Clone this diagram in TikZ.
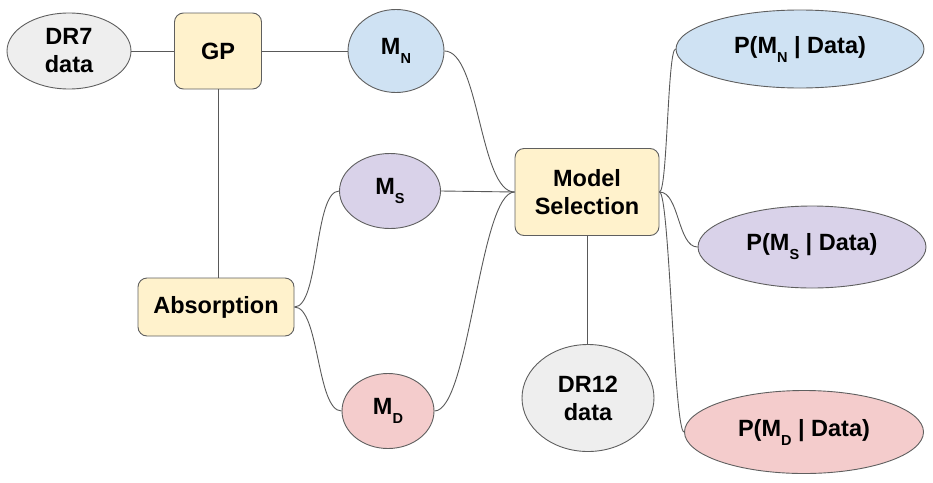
\documentclass[tikz,border=0pt]{standalone}
\usepackage{fontspec}
\setmainfont{Liberation Sans}
\usetikzlibrary{shapes.geometric}
\definecolor{bordc}{HTML}{5F5F5F}
\definecolor{linec}{HTML}{595959}
\definecolor{grayf}{HTML}{EEEEEE}
\definecolor{yelf}{HTML}{FFF2CC}
\definecolor{bluef}{HTML}{CFE2F3}
\definecolor{purf}{HTML}{D9D2E9}
\definecolor{redf}{HTML}{F4CCCC}
\newcommand{\sbs}[1]{\raisebox{-9pt}{\fontsize{14.5}{14.5}\selectfont #1}}
\tikzset{
  txt/.style={font=\fontsize{23.5}{28}\selectfont\bfseries, align=center, text=black},
  ell/.style={txt, ellipse, draw=bordc, line width=0.9pt, inner sep=0pt},
  rbox/.style={txt, rectangle, rounded corners=9pt, draw=bordc, line width=0.9pt, inner sep=0pt},
  conn/.style={draw=linec, line width=0.9pt},
}
\begin{document}
\begin{tikzpicture}[x=1pt,y=-1pt]
\useasboundingbox (0,0) rectangle (933,482);
\node[ell, fill=grayf, minimum width=124pt, minimum height=76pt] (dr7) at (69,51) {DR7\\data};
\node[rbox, fill=yelf, minimum width=87pt, minimum height=76pt] (gp) at (218,51) {GP};
\node[ell, fill=bluef, minimum width=96pt, minimum height=83pt] (mn) at (396,51) {M\sbs{N}};
\node[rbox, fill=yelf, minimum width=156pt, minimum height=58pt] (abs) at (216,307) {Absorption};
\node[ell, fill=purf, minimum width=101pt, minimum height=75pt] (ms) at (390,191) {M\sbs{S}};
\node[ell, fill=redf, minimum width=92pt, minimum height=75pt] (md) at (388,411) {M\sbs{D}};
\node[rbox, fill=yelf, minimum width=144pt, minimum height=87pt] (sel) at (587,192) {Model\\Selection};
\node[ell, fill=grayf, minimum width=132pt, minimum height=107pt] (dr12) at (588,398) {DR12\\data};
\node[ell, fill=bluef, minimum width=248pt, minimum height=78pt] (pn) at (800,49) {P(M\sbs{N} | Data)};
\node[ell, fill=purf, minimum width=228pt, minimum height=82pt] (ps) at (812,247) {P(M\sbs{S} | Data)};
\node[ell, fill=redf, minimum width=239pt, minimum height=83pt] (pd) at (804,432) {P(M\sbs{D} | Data)};
\draw[conn] (dr7.east) -- (gp.west);
\draw[conn] (gp.east) -- (mn.west);
\draw[conn] (gp.south) -- (gp.south |- abs.north);
\draw[conn] (abs.east) .. controls +(25,0) and +(-25,0) .. (ms.west);
\draw[conn] (abs.east) .. controls +(25,0) and +(-25,0) .. (md.west);
\draw[conn] (mn.east) .. controls +(35,0) and +(-35,0) .. (sel.west);
\draw[conn] (ms.east) -- (sel.west);
\draw[conn] (md.east) .. controls +(35,0) and +(-35,0) .. (sel.west);
\draw[conn] (sel.south) -- (sel.south |- dr12.north);
\draw[conn] (sel.east) .. controls +(8,0) and +(-8,0) .. (pn.west);
\draw[conn] (sel.east) .. controls +(20,0) and +(-20,0) .. (ps.west);
\draw[conn] (sel.east) .. controls +(10,0) and +(-10,0) .. (pd.west);
\end{tikzpicture}
\end{document}
